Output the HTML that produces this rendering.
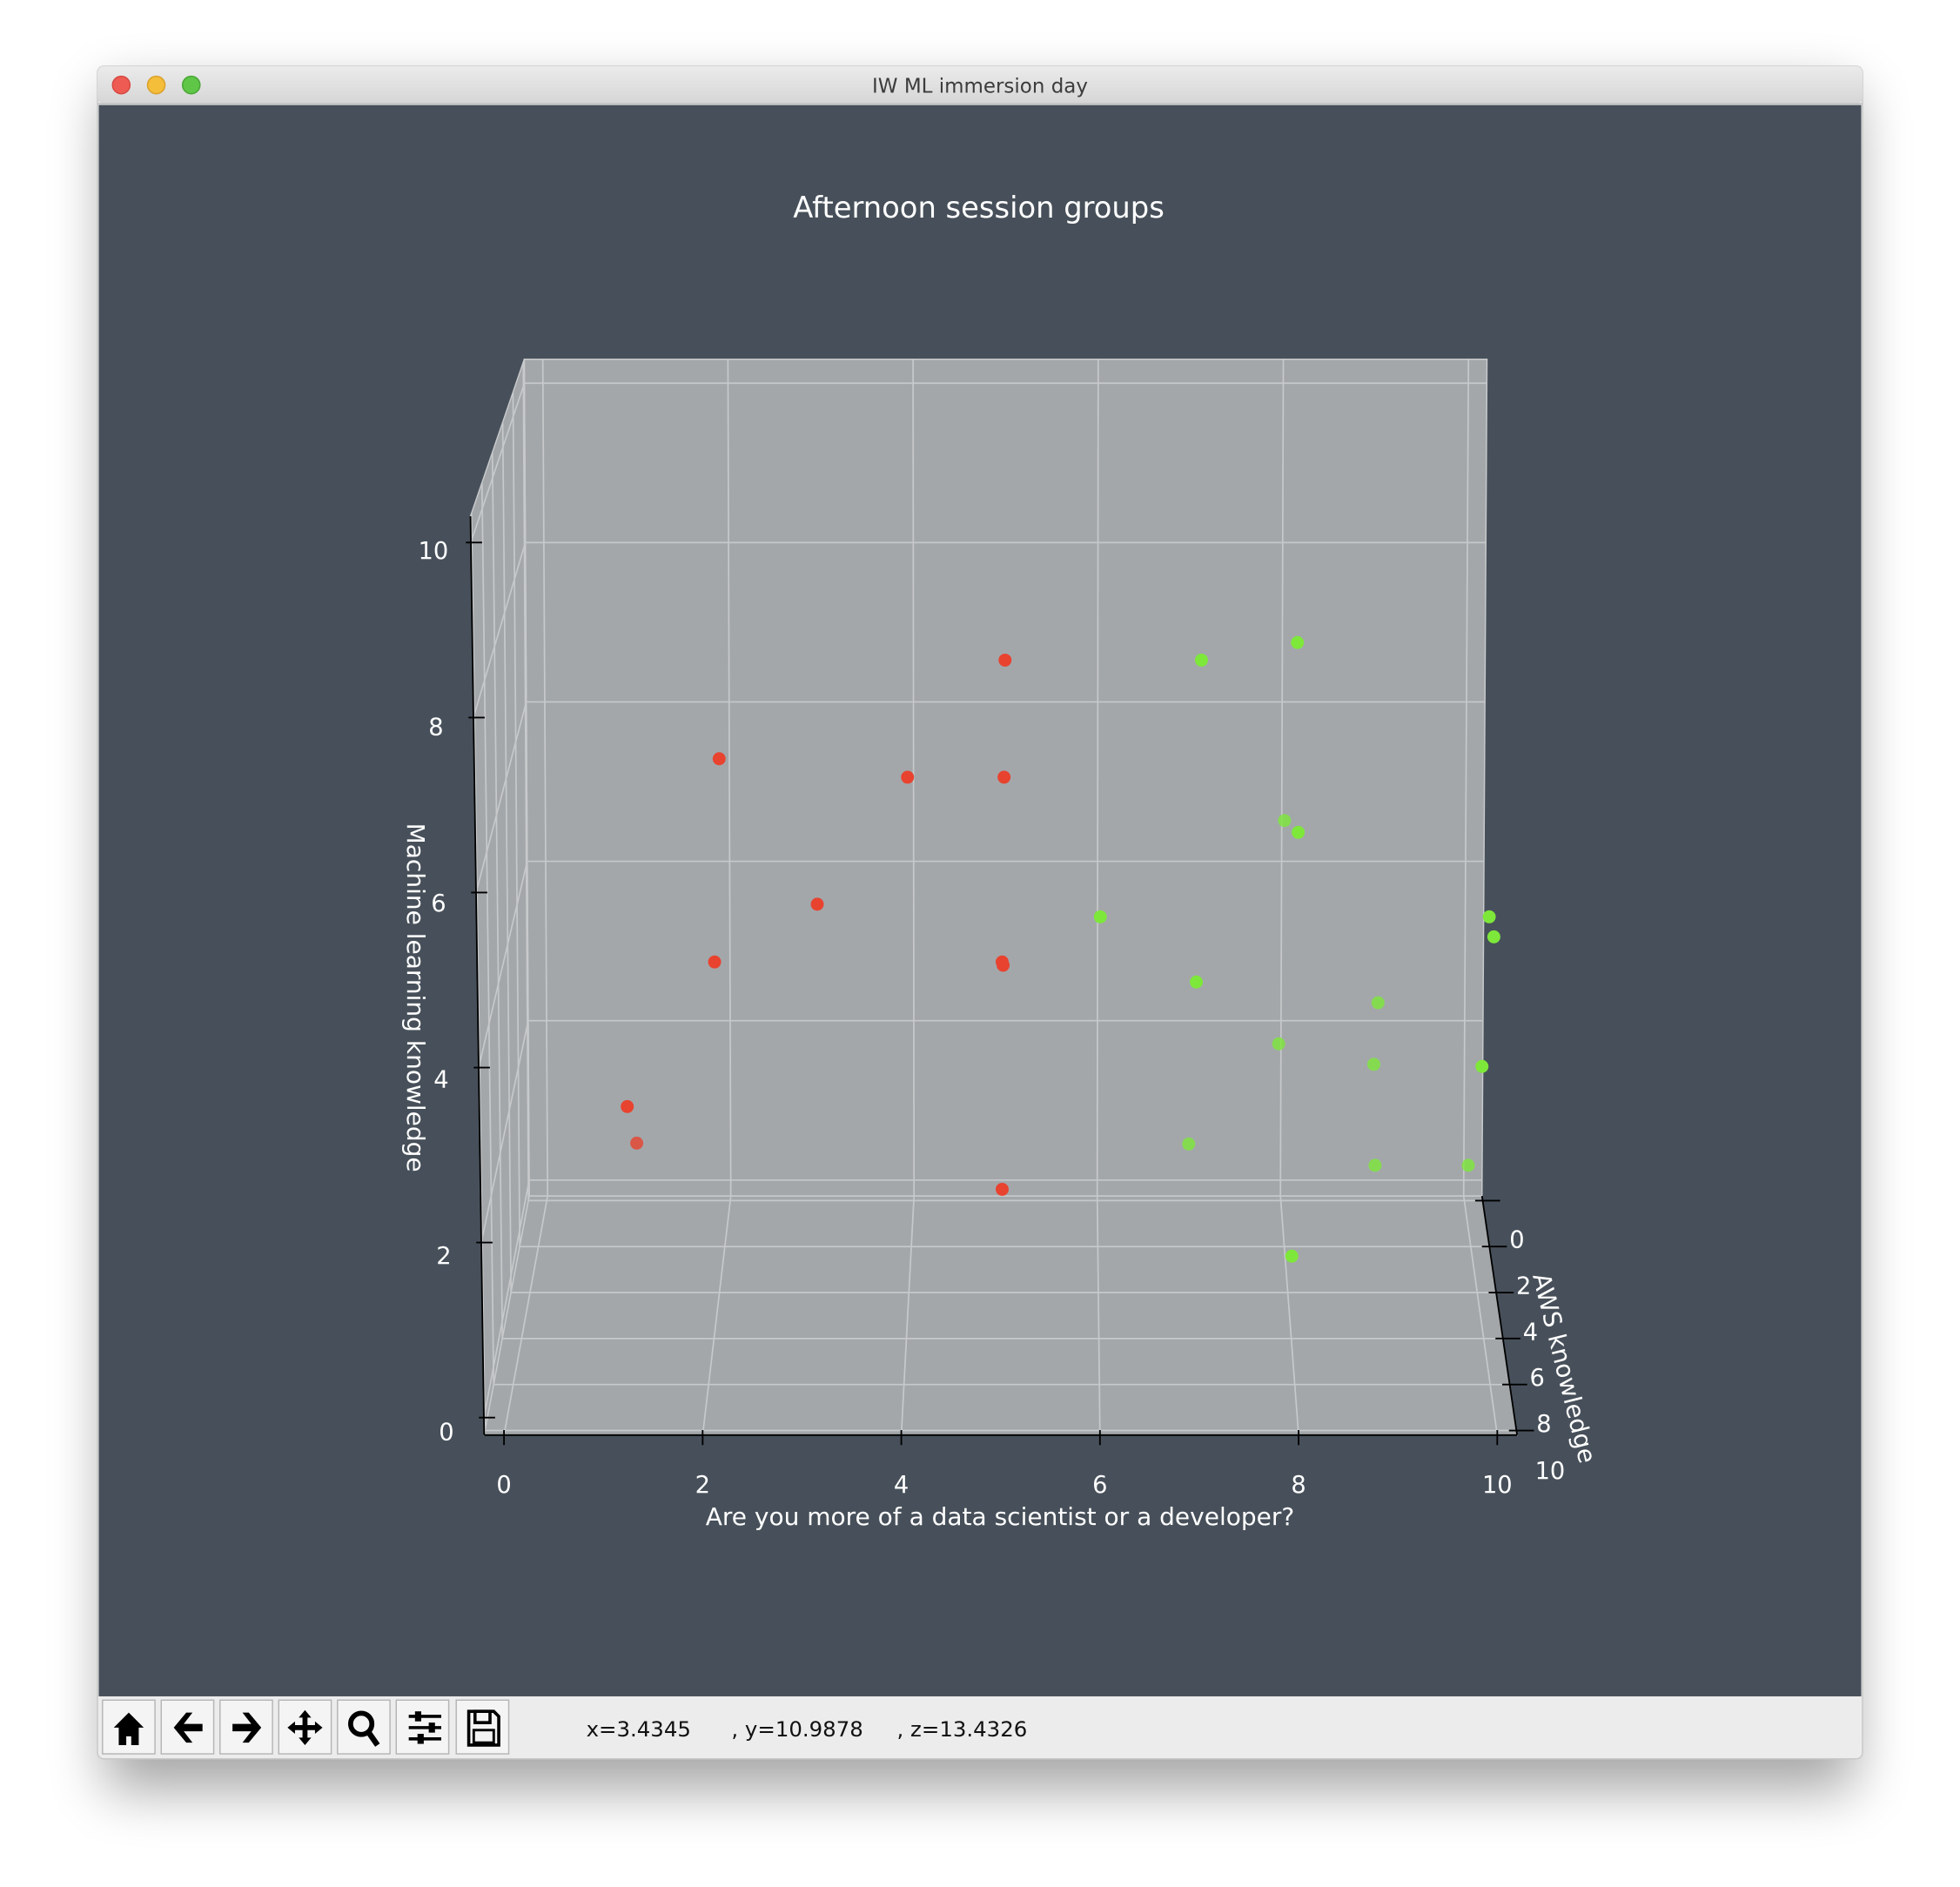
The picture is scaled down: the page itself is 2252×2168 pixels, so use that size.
<!DOCTYPE html>
<html><head><meta charset="utf-8"><style>
html,body{margin:0;padding:0;background:#fff;width:2252px;height:2168px;overflow:hidden}
svg{display:block}
text{font-family:"DejaVu Sans","Liberation Sans",sans-serif}
</style></head><body>
<svg id="chart" width="2252" height="2168" viewBox="0 0 1568 1509.5" xmlns="http://www.w3.org/2000/svg">
<defs>
<filter id="sh" x="-10%" y="-10%" width="120%" height="125%"><feGaussianBlur stdDeviation="22"/></filter>
<linearGradient id="tb" x1="0" y1="0" x2="0" y2="1"><stop offset="0" stop-color="#ebebeb"/><stop offset="1" stop-color="#d6d6d6"/></linearGradient>
</defs>
<rect x="84" y="72" width="1400" height="1360" fill="#000" opacity="0.35" filter="url(#sh)"/>
<g>
<rect x="78" y="53" width="1412" height="1354" rx="5" fill="#ececec" stroke="#c8c8c8" stroke-width="1"/>
<rect x="78" y="53" width="1412" height="30" rx="5" fill="url(#tb)"/>
<line x1="78" y1="83" x2="1490" y2="83" stroke="#bdbdbd"/>
<circle cx="97" cy="68" r="7" fill="#ee5b53" stroke="#d6473f"/>
<circle cx="125" cy="68" r="7" fill="#f4bd3a" stroke="#d9a02b"/>
<circle cx="153" cy="68" r="7" fill="#5fc647" stroke="#47a633"/>
<text x="784" y="74" font-size="16" fill="#3c3c3c" text-anchor="middle">IW ML immersion day</text>
<rect x="79" y="84" width="1410" height="1273" fill="#47505a"/>
</g>
<text x="783" y="174" font-size="23.5" fill="#fff" text-anchor="middle">Afternoon session groups</text>
<g id="axes3d"></g>
<g>
<g id="tbuttons"></g>
<text x="469" y="1389" font-size="17" fill="#111" xml:space="preserve">x=3.4345      , y=10.9878     , z=13.4326</text>
</g>
</svg>
<script>
// data
const redX=[5.02,2.06,4.01,5.01,3.07,2.00,4.99,5.00,1.08,1.10,4.99];
const redY=[3,3,3,3,3,3,3,3,3,1,3];
const redZ=[7.64,6.46,6.24,6.24,4.72,4.03,4.03,3.99,2.30,1.34,1.31];
const greenX=[7.05,8.04,7.96,8.06,6.01,10.05,10.10,7.01,8.96,7.91,8.92,9.99,6.96,8.94,9.93,8.02];
const greenY=[3,3,1,3,3,3,3,3,1,1,1,3,1,1,1,3];
const greenZ=[7.64,7.85,5.27,5.58,4.57,4.57,4.33,3.79,3.05,2.55,2.30,2.78,1.33,1.07,1.07,0.51];
const xTicks=[0,2,4,6,8,10];
const yTicks=[0,2,4,6,8];
const zTicks=[0,2,4,6,8,10];
const xLim=[-0.2,10.2], yLim=[-2.2,8.2], zLim=[-0.2,10.3];

const NS='http://www.w3.org/2000/svg';
const ax=document.getElementById('axes3d');
function P(x,y,z){
  const t=(y-yLim[0])/(yLim[1]-yLim[0]);
  let sx=(438-35*t)+(73.3+6.2*t)*x;
  sx=804+(sx-804)*(1+(0.001+0.0015*t)*z);
  return [sx, (944+190*t)-(63.75+6.25*t)*z];
}
function mk(tag,attrs,parent){const e=document.createElementNS(NS,tag);for(const k in attrs)e.setAttribute(k,attrs[k]);(parent||ax).appendChild(e);return e;}
function poly(pts,name){const e=mk('polygon',{points:pts.map(p=>p.join(',')).join(' '),fill:'#a3a7aa',stroke:'#c9cbcd','stroke-width':1});

}
const [x0,x1]=xLim,[y0,y1]=yLim,[z0,z1]=zLim;
poly([P(x0,y0,z0),P(x1,y0,z0),P(x1,y0,z1),P(x0,y0,z1)],'back-pane');
poly([P(x0,y0,z0),P(x0,y1,z0),P(x0,y1,z1),P(x0,y0,z1)],'left-pane');
poly([P(x0,y0,z0),P(x1,y0,z0),P(x1,y1,z0),P(x0,y1,z0)],'floor-pane');
function gl(a,b,name){const e=mk('line',{x1:a[0],y1:a[1],x2:b[0],y2:b[1],stroke:'#c6c8ca','stroke-width':1.2});

}
xTicks.forEach(v=>{gl(P(v,y0,z0),P(v,y0,z1),'back-x-gridline');gl(P(v,y0,z0),P(v,y1,z0),'floor-x-gridline');});
zTicks.forEach(v=>{gl(P(x0,y0,v),P(x1,y0,v),'back-z-gridline');gl(P(x0,y0,v),P(x0,y1,v),'left-z-gridline');});
[-2].concat(yTicks).forEach(v=>{gl(P(x0,v,z0),P(x1,v,z0),'floor-y-gridline');gl(P(x0,v,z0),P(x0,v,z1),'left-y-gridline');});
function al(a,b,name){const e=mk('line',{x1:a[0],y1:a[1],x2:b[0],y2:b[1],stroke:'#000','stroke-width':1.3});

}
al(P(x0,y1,z0),P(x1,y1,z0),'x-axis-line');
al(P(x1,y0,z0),P(x1,y1,z0),'y-axis-line');
al(P(x0,y1,z0),P(x0,y1,z1),'z-axis-line');
function tx(x,y,s,name,size){const e=mk('text',{x:x,y:y,'font-size':size||19,fill:'#fff','text-anchor':'middle'});e.textContent=s;

return e;}
xTicks.forEach(v=>{const p=P(v,y1,z0);al([p[0],p[1]-4],[p[0],p[1]+8],'x-tick');tx(p[0],p[1]+46,String(v),'x-tick-label');});
[-2].concat(yTicks).forEach(v=>{const p=P(x1,v,z0);al([p[0]-6,p[1]],[p[0]+14,p[1]],'y-tick');});
yTicks.forEach(v=>{const p=P(x1,v,z0);tx(p[0]+22,p[1]+1,String(v),'y-tick-label');});
tx(1240,1183,'10','y-tick-label');
zTicks.forEach(v=>{const p=P(x0,y1,v);al([p[0]-4,p[1]],[p[0]+9,p[1]],'z-tick');tx(p[0]-30,p[1]+18-0.5*v,String(v),'z-tick-label');});
tx(800,1220,'Are you more of a data scientist or a developer?','x-axis-title',19.5);
const zt=tx(0,0,'Machine learning knowledge','z-axis-title',19.5);zt.setAttribute('transform','translate(326,798) rotate(90)');
const yt=tx(0,0,'AWS knowledge','y-axis-title',19.5);yt.setAttribute('transform','translate(1245,1096) rotate(76)');
function dots(X,Y,Z,color,name){for(let i=0;i<X.length;i++){const p=P(X[i],Y[i],Z[i]);
const op=0.5+0.5*Math.min(1,Math.max(0,(Y[i]-yLim[0])/(3-yLim[0])));
const c=mk('circle',{cx:p[0],cy:p[1],r:5.2,fill:color,'fill-opacity':op});

}}
dots(redX,redY,redZ,'#e8432f','red-group-point');
dots(greenX,greenY,greenZ,'#7ee83a','green-group-point');
// toolbar buttons
const tb=document.getElementById('tbuttons');
const names=['home-button','back-button','forward-button','pan-button','zoom-tool-button','configure-subplots-button','save-button'];
const bx=[82,129,176,223,270,317,365];
const icons=[
 '<path d="M103 1370 L91 1382 L95 1382 L95 1396 L101 1396 L101 1389 L105 1389 L105 1396 L111 1396 L111 1382 L115 1382 Z" fill="#000"/>',
 '<path d="M139 1382 L149 1370 L154 1370 L147 1379 L162 1379 L162 1385 L147 1385 L154 1394 L149 1394 Z" fill="#000"/>',
 '<path d="M209 1382 L199 1370 L194 1370 L201 1379 L186 1379 L186 1385 L201 1385 L194 1394 L199 1394 Z" fill="#000"/>',
 '<path d="M244 1368 L249 1374 L246 1374 L246 1380 L252 1380 L252 1377 L258 1382 L252 1387 L252 1384 L246 1384 L246 1390 L249 1390 L244 1396 L239 1390 L242 1390 L242 1384 L236 1384 L236 1387 L230 1382 L236 1377 L236 1380 L242 1380 L242 1374 L239 1374 Z" fill="#000"/>',
 '<circle cx="289" cy="1379" r="8.5" fill="none" stroke="#000" stroke-width="4"/><line x1="295" y1="1386" x2="302" y2="1396" stroke="#000" stroke-width="4.5"/>',
 '<g stroke="#000" stroke-width="2.5"><line x1="327" y1="1373" x2="353" y2="1373"/><line x1="327" y1="1382" x2="353" y2="1382"/><line x1="327" y1="1391" x2="353" y2="1391"/></g><rect x="332" y="1369" width="5" height="8" fill="#000"/><rect x="343" y="1378" width="5" height="8" fill="#000"/><rect x="334" y="1387" width="5" height="8" fill="#000"/>',
 '<path d="M375 1369 L395 1369 L399 1373 L399 1396 L375 1396 Z" fill="none" stroke="#000" stroke-width="2.5"/><rect x="380" y="1369" width="12" height="9" fill="none" stroke="#000" stroke-width="2.5"/><rect x="379" y="1384" width="16" height="10" fill="none" stroke="#000" stroke-width="2"/>'
];
for(let i=0;i<7;i++){
const g=mk('g',{},tb);


mk('rect',{x:bx[i],y:1360,width:42,height:43,fill:'#f4f4f4',stroke:'#b5b5b5'},g);
g.insertAdjacentHTML('beforeend',icons[i]);
}
</script>
</body></html>
